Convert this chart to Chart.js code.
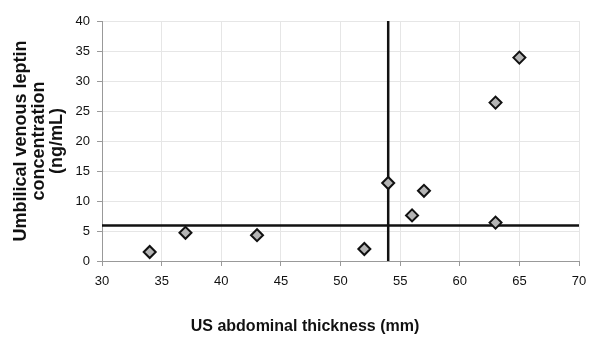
<!DOCTYPE html>
<html>
<head>
<meta charset="utf-8">
<script src="https://cdn.jsdelivr.net/npm/chart.js@4/dist/chart.umd.min.js"></script>
<style>
  html, body { margin: 0; padding: 0; background: #fff; }
  #wrap { width: 589px; height: 341px; }
</style>
</head>
<body>
<div id="wrap"><canvas id="chart"></canvas></div>
<script>
// abdominal thickness (mm) vs umbilical venous leptin (ng/mL)
const thickness = [34, 37, 43, 52, 54, 56, 57, 63, 63, 65]
const leptin = [1.5, 4.7, 4.3, 2.0, 13.0, 7.6, 11.7, 6.4, 26.4, 33.9]

// cut-off lines
const thicknessCut = 54
const leptinCut = 5.9

const xRange = [30, 70]
const yRange = [0, 40]

const xTitle = 'US abdominal thickness (mm)'
const yTitle = ['Umbilical venous leptin', 'concentration', '(ng/mL)']

const font = '"Liberation Sans", Arial, sans-serif'

// x title sits left of the plot centre in the original, so draw it here
let xTitlePlugin = {
  id: 'xTitle',
  afterDraw (chart) {
    let ctx = chart.ctx
    ctx.save()
    ctx.font = 'bold 16px ' + font
    ctx.fillStyle = '#111'
    ctx.textAlign = 'center'
    ctx.textBaseline = 'middle'
    ctx.fillText(xTitle, 305, 327)
    ctx.restore()
  }
}

let points = thickness.map((x, i) => {
  return { x: x, y: leptin[i] }
})

new Chart(document.getElementById('chart'), {
  type: 'scatter',
  data: {
    datasets: [
      {
        data: points,
        pointStyle: 'rectRot',
        pointRadius: 6,
        pointBackgroundColor: '#b4b4b4',
        pointBorderColor: '#111',
        pointBorderWidth: 2
      },
      {
        data: [{ x: thicknessCut, y: yRange[0] }, { x: thicknessCut, y: yRange[1] }],
        showLine: true,
        borderColor: '#111',
        borderWidth: 2.5,
        pointRadius: 0
      },
      {
        data: [{ x: xRange[0], y: leptinCut }, { x: xRange[1], y: leptinCut }],
        showLine: true,
        borderColor: '#111',
        borderWidth: 2.5,
        pointRadius: 0
      }
    ]
  },
  options: {
    responsive: true,
    maintainAspectRatio: false,
    animation: false,
    layout: { padding: { left: 0, right: 10, top: 21, bottom: 0 } },
    plugins: {
      legend: { display: false },
      tooltip: { enabled: false }
    },
    scales: {
      x: {
        type: 'linear',
        min: xRange[0],
        max: xRange[1],
        afterFit (scale) {
          scale.height = 80
          scale.paddingRight = 8
        },
        ticks: {
          stepSize: 5,
          padding: 8,
          color: '#111',
          font: { family: font, size: 13 }
        },
        grid: { color: '#e6e6e6', tickLength: 5, tickColor: '#999' },
        border: { color: '#999' }
      },
      y: {
        min: yRange[0],
        max: yRange[1],
        afterFit (scale) { scale.width = 102 },
        ticks: {
          stepSize: 5,
          padding: 7,
          color: '#111',
          font: { family: font, size: 13 }
        },
        grid: { color: '#e6e6e6', tickLength: 5, tickColor: '#999' },
        border: { color: '#999' },
        title: {
          display: true,
          text: yTitle,
          color: '#111',
          padding: { top: 12, bottom: 0 },
          font: { family: font, size: 18, weight: 'bold', lineHeight: 1.0 }
        }
      }
    }
  },
  plugins: [xTitlePlugin]
})
</script>
</body>
</html>
